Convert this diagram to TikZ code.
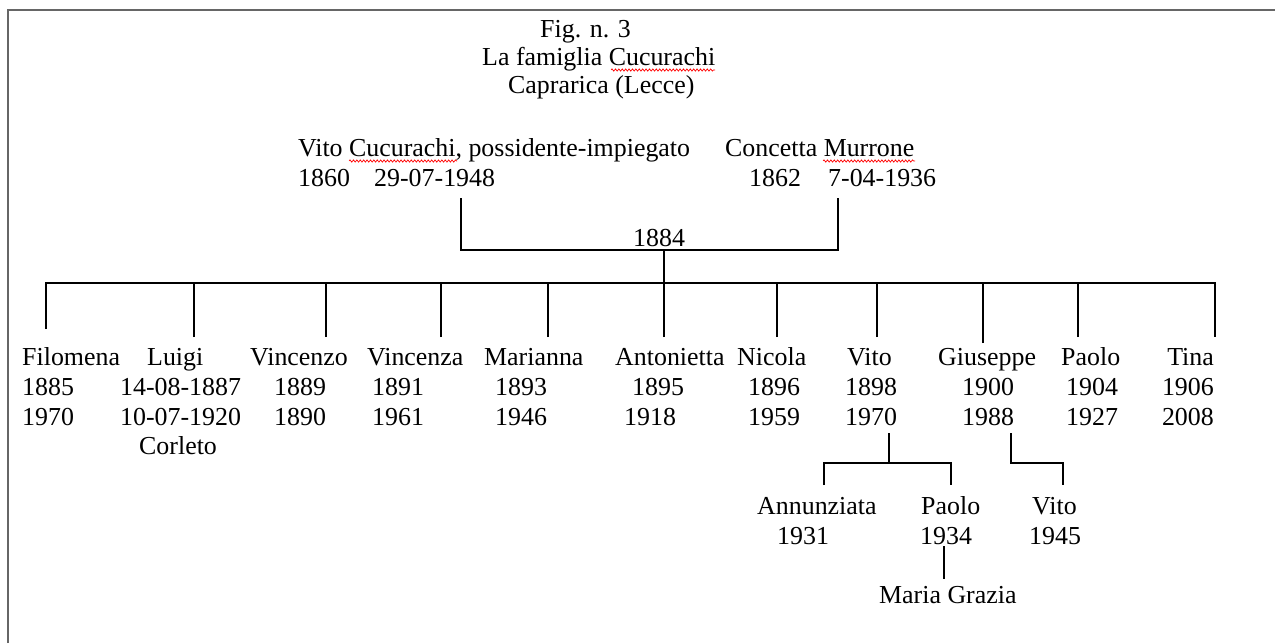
\documentclass[tikz,border=0pt]{standalone}
\usepackage{fontspec}
\setmainfont{Liberation Serif}
\usetikzlibrary{decorations.pathmorphing}
\begin{document}
\begin{tikzpicture}[x=1pt,y=-1pt,
  txt/.style={anchor=base west,inner sep=0pt,font=\fontsize{25.9}{30}\selectfont},
  txtr/.style={txt,anchor=base east},
  link/.style={line width=2pt,black},
  spell/.style={red,line width=0.7pt,decorate,decoration={snake,amplitude=1.1pt,segment length=3.4pt}},
  framed/.style={draw=black!60,line width=2pt}]
\useasboundingbox (0,0) rectangle (1275,643);
\draw[framed] (8,643) -- (8,10) -- (1275,10);
% title
\node[txt] (fig) at (540,37) {Fig. n. 3};
\node[txt] (fam) at (482,65) {La famiglia Cucurachi};
\node[txt] (cap) at (508,93) {Caprarica (Lecce)};
% parents
\node[txt] (vito) at (298,156) {Vito Cucurachi, possidente-impiegato};
\node[txt] (vitob) at (298,186) {1860};
\node[txt] (vitom) at (374,186) {29-07-1948};
\node[txt] (conc) at (725,156) {Concetta Murrone};
\node[txt] (concb) at (749,186) {1862};
\node[txt] (concm) at (828,186) {7-04-1936};
\node[txt] (wed) at (633,246) {1884};
% spell-check marks
\draw[spell] (611,70) -- (715,70);
\draw[spell] (349,161) -- (457,161);
\draw[spell] (823,161) -- (915,161);
% children
\node[txt] (c1) at (22,365) {Filomena};
\node[txt] (c1b) at (22,395) {1885};
\node[txt] (c1d) at (22,425) {1970};
\node[txt] (c2) at (147,365) {Luigi};
\node[txt] (c2b) at (120,395) {14-08-1887};
\node[txt] (c2d) at (120,425) {10-07-1920};
\node[txt] (c2p) at (139,454) {Corleto};
\node[txt] (c3) at (250,365) {Vincenzo};
\node[txt] (c3b) at (274,395) {1889};
\node[txt] (c3d) at (274,425) {1890};
\node[txt] (c4) at (367,365) {Vincenza};
\node[txt] (c4b) at (372,395) {1891};
\node[txt] (c4d) at (372,425) {1961};
\node[txt] (c5) at (484,365) {Marianna};
\node[txt] (c5b) at (495,395) {1893};
\node[txt] (c5d) at (495,425) {1946};
\node[txt] (c6) at (615,365) {Antonietta};
\node[txt] (c6b) at (632,395) {1895};
\node[txt] (c6d) at (624,425) {1918};
\node[txt] (c7) at (737,365) {Nicola};
\node[txt] (c7b) at (748,395) {1896};
\node[txt] (c7d) at (748,425) {1959};
\node[txt] (c8) at (847,365) {Vito};
\node[txt] (c8b) at (845,395) {1898};
\node[txt] (c8d) at (845,425) {1970};
\node[txt] (c9) at (938,365) {Giuseppe};
\node[txt] (c9b) at (962,395) {1900};
\node[txt] (c9d) at (962,425) {1988};
\node[txt] (c10) at (1061,365) {Paolo};
\node[txt] (c10b) at (1066,395) {1904};
\node[txt] (c10d) at (1066,425) {1927};
\node[txtr] (c11) at (1214,365) {Tina};
\node[txtr] (c11b) at (1214,395) {1906};
\node[txtr] (c11d) at (1214,425) {2008};
% grandchildren
\node[txt] (g1) at (757,514) {Annunziata};
\node[txt] (g1b) at (777,544) {1931};
\node[txt] (g2) at (921,514) {Paolo};
\node[txt] (g2b) at (920,544) {1934};
\node[txt] (g3) at (1032,514) {Vito};
\node[txt] (g3b) at (1029,544) {1945};
\node[txt] (gg) at (879,603) {Maria Grazia};
% connector points
\coordinate (pv) at (461,198);
\coordinate (pc) at (838,198);
\coordinate (mj) at (664,250);
\coordinate (bar) at (664,283);
\coordinate (d1) at (46,329);
\coordinate (d2) at (194,337);
\coordinate (d3) at (326,337);
\coordinate (d4) at (441,337);
\coordinate (d5) at (548,337);
\coordinate (d6) at (664,337);
\coordinate (d7) at (777,337);
\coordinate (d8) at (877,337);
\coordinate (d9) at (983,343);
\coordinate (d10) at (1078,337);
\coordinate (d11) at (1215,337);
\coordinate (v8) at (889,433);
\coordinate (v8j) at (889,463);
\coordinate (a1) at (824,485);
\coordinate (a2) at (951,485);
\coordinate (v9) at (1011,433);
\coordinate (a3) at (1063,485);
\coordinate (m1) at (944,546);
\coordinate (m2) at (944,579);
% connectors
\draw[link] (pv) |- (mj) -| (pc);
\draw[link] (mj) -- (bar);
\draw[link] (d1) -- (d1 |- bar) -- (d11 |- bar) -- (d11);
\foreach \d in {d2,d3,d4,d5,d6,d7,d8,d9,d10} \draw[link] (\d) -- (\d |- bar);
\draw[link] (v8) -- (v8j);
\draw[link] (a1) -- (a1 |- v8j) -- (a2 |- v8j) -- (a2);
\draw[link] (v9) -- (v9 |- v8j) -- (a3 |- v8j) -- (a3);
\draw[link] (m1) -- (m2);
\end{tikzpicture}
\end{document}
